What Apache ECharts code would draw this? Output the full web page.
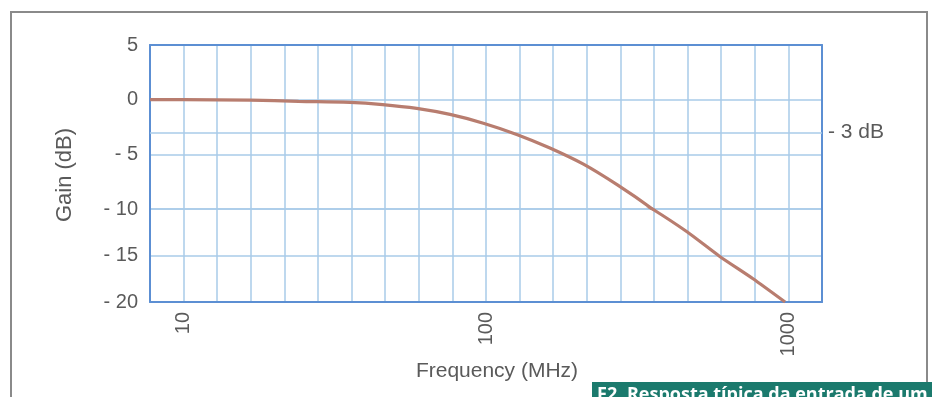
<!DOCTYPE html>
<html>
<head>
<meta charset="utf-8">
<script src="https://cdn.jsdelivr.net/npm/echarts@6/dist/echarts.min.js"></script>
<style>
html,body{margin:0;padding:0;background:#fff;}
#c{width:932px;height:397px;}
</style>
</head>
<body>
<div id="c"></div>
<script>
// Frequency (MHz) and gain (dB)
const freqMHz = [7.75, 10, 16.6, 24, 35.5, 45.5, 59, 76, 98, 127, 162, 210, 272, 355, 462, 593, 764, 975];
const gainDb  = [0, 0, -0.05, -0.15, -0.25, -0.45, -0.8, -1.35, -2.15, -3.2, -4.4, -5.9, -7.8, -10, -12.45, -15.1, -17.5, -20];
// Decade tick labels on the frequency axis
const decadeLabels = ['10', '100', '1000'];
const refLineDb = -3;
const refLabel = '- 3 dB';

const STEPS_PER_DECADE = 9;
const toAxis = f => STEPS_PER_DECADE * Math.log10(f);
const pts = freqMHz.map((f, i) => [toAxis(f), gainDb[i]]);
// split at the -10 dB boundary between the two stacked grids, keeping one neighbour on each side
const jIdx = gainDb.indexOf(-10);
const topPts = pts.slice(0, jIdx + 2);
const botPts = pts.slice(jIdx - 1);

const FONT = 'Liberation Sans, Arial, sans-serif';
const LABEL = '#5a5a5a';
const GRIDC = '#a9cbe9';
const AXISC = '#5c8fd3';
const CURVE = '#b87d6f';

const fmtY = v => (v < 0 ? '- ' + (-v) : String(v));
const fmtX = v => {
  if (Math.abs(v % STEPS_PER_DECADE) < 1e-6) {
    const idx = Math.round(v / STEPS_PER_DECADE) - 1;
    return decadeLabels[idx] || '';
  }
  return '';
};

const xCommon = {
  type: 'value', min: 8, max: 28, interval: 1,
  axisLine: {show: true, onZero: false, lineStyle: {color: AXISC, width: 2}},
  axisTick: {show: false},
  splitLine: {show: true, lineStyle: {color: GRIDC, width: 1.5}}
};
const yCommon = {
  type: 'value', interval: 5,
  axisLine: {show: true, onZero: false, lineStyle: {color: AXISC, width: 2}},
  axisTick: {show: false},
  splitLine: {show: true, lineStyle: {color: GRIDC, width: 1.5}},
  axisLabel: {color: LABEL, fontSize: 20, fontFamily: FONT, margin: 12, formatter: fmtY}
};
const yRight = {
  type: 'value', position: 'right', interval: 5,
  axisLine: {show: true, onZero: false, lineStyle: {color: AXISC, width: 2}},
  axisTick: {show: false}, axisLabel: {show: false}, splitLine: {show: false}
};

const chart = echarts.init(document.getElementById('c'), null, {renderer: 'canvas'});
chart.setOption({
  animation: false,
  backgroundColor: '#fff',
  grid: [
    {left: 150, right: 110, top: 45, height: 164},
    {left: 150, right: 110, top: 209, height: 93}
  ],
  xAxis: [
    Object.assign({}, xCommon, {gridIndex: 0, position: 'top', axisLabel: {show: false}}),
    Object.assign({}, xCommon, {
      gridIndex: 1, position: 'bottom',
      axisLabel: {show: true, rotate: 90, color: LABEL, fontSize: 20, fontFamily: FONT, margin: 10, formatter: fmtX},
      name: 'Frequency (MHz)', nameLocation: 'middle', nameGap: 50,
      nameTextStyle: {color: LABEL, fontSize: 21, fontFamily: FONT, padding: [0, 0, 0, 22]}
    })
  ],
  yAxis: [
    Object.assign({}, yCommon, {gridIndex: 0, min: -10, max: 5}),
    Object.assign({}, yRight, {gridIndex: 0, min: -10, max: 5}),
    Object.assign({}, yCommon, {gridIndex: 1, min: -20, max: -10,
      axisLabel: Object.assign({}, yCommon.axisLabel, {showMaxLabel: false})}),
    Object.assign({}, yRight, {gridIndex: 1, min: -20, max: -10})
  ],
  series: [
    {
      type: 'line', xAxisIndex: 0, yAxisIndex: 0, data: topPts,
      smooth: 0.35, symbol: 'none', clip: true,
      lineStyle: {color: CURVE, width: 3.2}, z: 5,
      markLine: {
        silent: true, symbol: 'none',
        lineStyle: {color: GRIDC, width: 1.5, type: 'solid'},
        label: {show: true, position: 'end', formatter: refLabel, color: LABEL, fontSize: 21, fontFamily: FONT, distance: 6},
        data: [{yAxis: refLineDb}]
      }
    },
    {
      type: 'line', xAxisIndex: 1, yAxisIndex: 2, data: botPts,
      smooth: 0.2, symbol: 'none', clip: true,
      lineStyle: {color: CURVE, width: 3.2}, z: 5
    }
  ],
  graphic: [
    {type: 'rect', shape: {x: 11, y: 12, width: 916, height: 400}, style: {fill: 'none', stroke: '#8a8a8a', lineWidth: 2}, z: -10, silent: true},
    {type: 'text', x: 65, y: 175, rotation: Math.PI / 2,
      style: {text: 'Gain (dB)', fill: LABEL, fontSize: 22, fontFamily: FONT, align: 'center', verticalAlign: 'middle'}},
    {type: 'rect', shape: {x: 592, y: 382, width: 345, height: 20}, style: {fill: '#1b7a6d'}, z: 10, silent: true},
    {type: 'text', x: 597, y: 386, z: 11,
      style: {text: 'F2. Resposta típica da entrada de um', fill: '#ffffff', fontSize: 18, fontWeight: 'bold', fontFamily: 'Open Sans, Noto Sans, sans-serif', align: 'left', verticalAlign: 'top'}}
  ]
});
</script>
</body>
</html>
